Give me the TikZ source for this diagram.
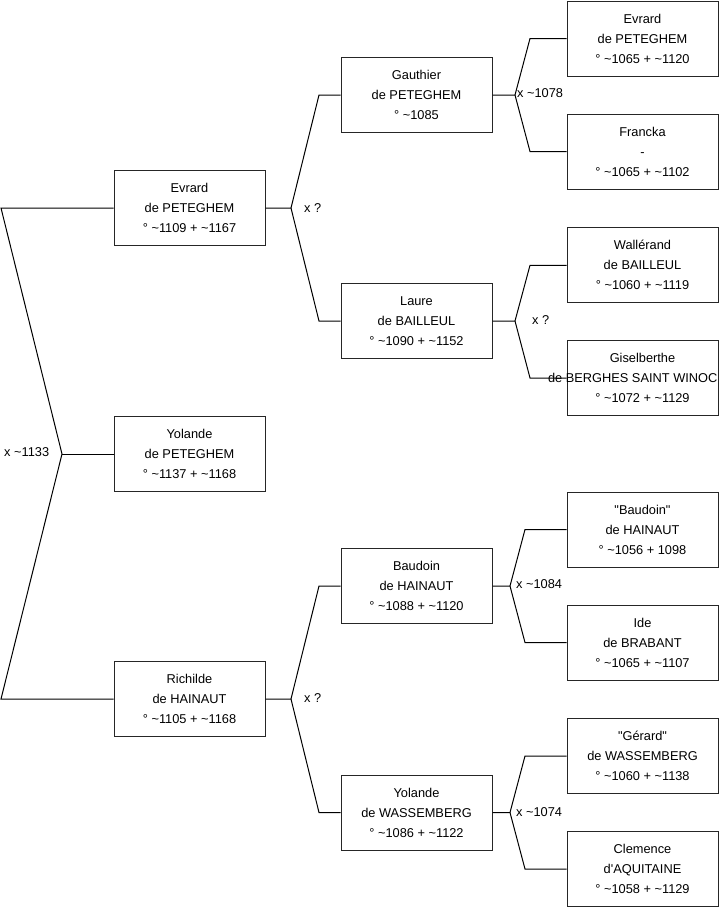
\documentclass[tikz,border=0pt]{standalone}
\usepackage{fontspec}
\setmainfont{Liberation Sans}[Ligatures=TeXOff]
\newcommand{\tl}{\textasciitilde}
\begin{document}
\begin{tikzpicture}[x=1pt,y=-1pt,
  every node/.style={font=\fontsize{12.8}{20}\selectfont},
  person/.style={draw=black!85, line width=1pt, fill=white, minimum width=151pt, minimum height=75pt, inner sep=0pt, align=center},
  lbl/.style={anchor=west, inner sep=0pt},
  link/.style={line width=1pt, black}]
\useasboundingbox (0,0) rectangle (719,908);

% column 1
\node[person] (e1) at (189.5,208) {Evrard\\de PETEGHEM\\° \tl1109 + \tl1167};
\node[person] (y1) at (189.5,454) {Yolande\\de PETEGHEM\\° \tl1137 + \tl1168};
\node[person] (r1) at (189.5,699) {Richilde\\de HAINAUT\\° \tl1105 + \tl1168};

% column 2
\node[person] (g2) at (416.5,95) {Gauthier\\de PETEGHEM\\° \tl1085};
\node[person] (l2) at (416.5,321) {Laure\\de BAILLEUL\\° \tl1090 + \tl1152};
\node[person] (b2) at (416.5,586) {Baudoin\\de HAINAUT\\° \tl1088 + \tl1120};
\node[person] (w2) at (416.5,812.5) {Yolande\\de WASSEMBERG\\° \tl1086 + \tl1122};

% column 3
\node[person] (e3) at (642.5,38.5) {Evrard\\de PETEGHEM\\° \tl1065 + \tl1120};
\node[person] (f3) at (642.5,151.5) {Francka\\-\\° \tl1065 + \tl1102};
\node[person] (w3) at (642.5,265.3) {Wallérand\\de BAILLEUL\\° \tl1060 + \tl1119};
\node[person] (s3) at (642.5,378) {Giselberthe\\\makebox[0pt][c]{de BERGHES SAINT WINOC\hspace*{19.6pt}}\\° \tl1072 + \tl1129};
\node[person] (b3) at (642.5,529.5) {"Baudoin"\\de HAINAUT\\° \tl1056 + 1098};
\node[person] (i3) at (642.5,642.5) {Ide\\de BRABANT\\° \tl1065 + \tl1107};
\node[person] (g3) at (642.5,756) {"Gérard"\\de WASSEMBERG\\° \tl1060 + \tl1138};
\node[person] (c3) at (642.5,869) {Clemence\\d'AQUITAINE\\° \tl1058 + \tl1129};

% fork points
\coordinate (ra) at (1,208);
\coordinate (rf) at (62,454);
\coordinate (rb) at (1,699);
\coordinate (fa) at (291,208);
\coordinate (fa1) at (319,95);
\coordinate (fa2) at (319,321);
\coordinate (fb) at (291,699);
\coordinate (fb1) at (319,586);
\coordinate (fb2) at (319,812.5);
\coordinate (fc) at (515,95);
\coordinate (fc1) at (530,38.5);
\coordinate (fc2) at (530,151.5);
\coordinate (fd) at (515,321);
\coordinate (fd1) at (530,265.3);
\coordinate (fd2) at (530,378);
\coordinate (fe) at (510,586);
\coordinate (fe1) at (525,529.5);
\coordinate (fe2) at (525,642.5);
\coordinate (ff) at (510,812.5);
\coordinate (ff1) at (525,756);
\coordinate (ff2) at (525,869);

% connectors
\draw[link] (e1.west) -- (ra) -- (rf) -- (rb) -- (r1.west);
\draw[link] (rf) -- (y1.west);
\draw[link] (e1.east) -- (fa) -- (fa1) -- (g2.west);
\draw[link] (fa) -- (fa2) -- (l2.west);
\draw[link] (r1.east) -- (fb) -- (fb1) -- (b2.west);
\draw[link] (fb) -- (fb2) -- (w2.west);
\draw[link] (g2.east) -- (fc) -- (fc1) -- (e3.west);
\draw[link] (fc) -- (fc2) -- (f3.west);
\draw[link] (l2.east) -- (fd) -- (fd1) -- (w3.west);
\draw[link] (fd) -- (fd2) -- (s3.west);
\draw[link] (b2.east) -- (fe) -- (fe1) -- (b3.west);
\draw[link] (fe) -- (fe2) -- (i3.west);
\draw[link] (w2.east) -- (ff) -- (ff1) -- (g3.west);
\draw[link] (ff) -- (ff2) -- (c3.west);

% marriage labels
\node[lbl] (m0) at (4,452) {x \tl1133};
\node[lbl] (m1) at (304,208) {x ?};
\node[lbl] (m2) at (304,698) {x ?};
\node[lbl] (m3) at (517,93) {x \tl1078};
\node[lbl] (m4) at (532,320) {x ?};
\node[lbl] (m5) at (516,584) {x \tl1084};
\node[lbl] (m6) at (516,812) {x \tl1074};
\end{tikzpicture}
\end{document}
